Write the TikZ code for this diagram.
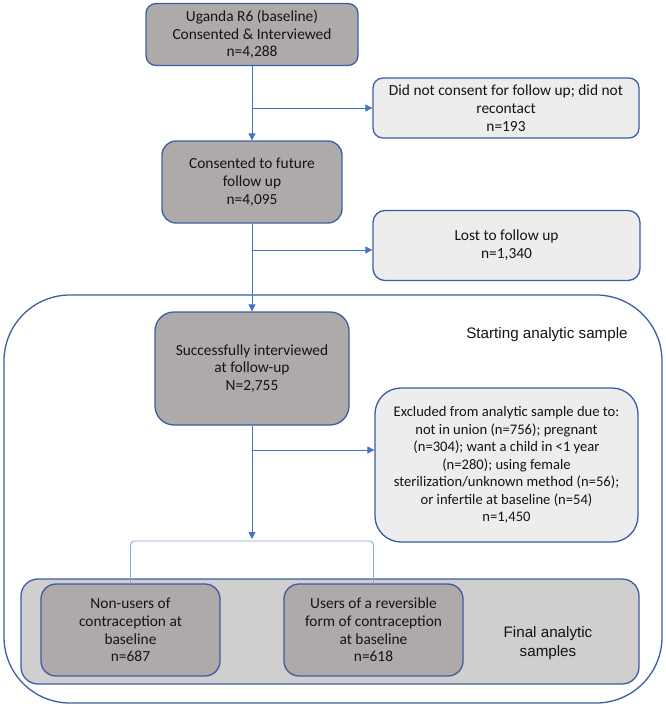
\documentclass[tikz,border=0pt]{standalone}
\usepackage{fontspec}
\setmainfont{Carlito}
\newfontfamily\arialf{Liberation Sans}
\usetikzlibrary{arrows.meta}
\definecolor{darkfill}{HTML}{AEAAAA}
\definecolor{lightfill}{HTML}{EDEDED}
\definecolor{bandfill}{HTML}{D0CECE}
\definecolor{edgeblue}{HTML}{3A5FA0}
\definecolor{connblue}{HTML}{4472C4}
\definecolor{bracketblue}{HTML}{8AA6DA}
\definecolor{txt}{HTML}{141414}
\tikzset{
  basebox/.style={draw=edgeblue, line width=1.3pt, align=center, text=txt,
    inner sep=2pt, font=\fontsize{15.4}{17.8}\selectfont},
  darkbox/.style={basebox, fill=darkfill},
  lightbox/.style={basebox, fill=lightfill},
  conn/.style={draw=connblue, line width=0.9pt, -{Triangle[length=7pt,width=7pt]}},
  bracketline/.style={draw=bracketblue, line width=0.9pt, rounded corners=4pt},
  plainlabel/.style={align=center, text=txt, font=\arialf\fontsize{15.2}{19}\selectfont}
}
\begin{document}
\begin{tikzpicture}[x=1pt,y=-1pt]
\useasboundingbox (0,0) rectangle (666,707);
% containers
\draw[draw=edgeblue, line width=1.3pt, rounded corners=66pt, fill=white] (4,295) rectangle (662,703);
\draw[draw=edgeblue, line width=1.3pt, rounded corners=17pt, fill=bandfill] (21,579) rectangle (639,684);
\node[plainlabel] (lstart) at (547,335) {Starting analytic sample};
\node[plainlabel] (lfinal) at (548,643) {Final analytic\\samples};
% boxes
\node[darkbox, minimum width=212pt, minimum height=62pt, rounded corners=10pt] (b1) at (252,34.5)
  {Uganda R6 (baseline)\\Consented \& Interviewed\\n=4,288};
\node[lightbox, minimum width=266pt, minimum height=60pt, rounded corners=10pt] (b2) at (506,108)
  {Did not consent for follow up; did not\\recontact\\n=193};
\node[darkbox, minimum width=180pt, minimum height=82pt, rounded corners=14pt] (b3) at (252,182)
  {Consented to future\\follow up\\n=4,095};
\node[lightbox, minimum width=267pt, minimum height=70pt, rounded corners=12pt] (b4) at (506.5,245.5)
  {Lost to follow up\\n=1,340};
\node[darkbox, minimum width=194pt, minimum height=113pt, rounded corners=19pt] (b5) at (252,368.5)
  {Successfully interviewed\\at follow-up\\N=2,755};
\node[lightbox, minimum width=263pt, minimum height=154pt, rounded corners=26pt,
  font=\fontsize{14.6}{17.5}\selectfont] (b6) at (506.5,465)
  {Excluded from analytic sample due to:\\not in union (n=756); pregnant\\(n=304); want a child in <1 year\\(n=280); using female\\sterilization/unknown method (n=56);\\or infertile at baseline (n=54)\\n=1,450};
\node[darkbox, minimum width=179pt, minimum height=92pt, rounded corners=15pt] (b7) at (130.5,630)
  {Non-users of\\contraception at\\baseline\\n=687};
\node[darkbox, minimum width=179pt, minimum height=92pt, rounded corners=15pt] (b8) at (373.5,630)
  {Users of a reversible\\form of contraception\\at baseline\\n=618};
% connectors
\coordinate (j1) at (252,108);
\coordinate (j2) at (252,250);
\coordinate (j3) at (252,450);
\coordinate (j4) at (252,539);
\coordinate (br) at (252,541);
\draw[conn] (b1.south) -- (b3.north);
\draw[conn] (j1) -- (j1 -| b2.west);
\draw[conn] (b3.south) -- (b5.north);
\draw[conn] (j2) -- (j2 -| b4.west);
\draw[conn] (b5.south) -- (j4);
\draw[conn] (j3) -- (j3 -| b6.west);
\draw[bracketline] (b7.north) -- (b7.north |- br) -- (b8.north |- br) -- (b8.north);
\end{tikzpicture}
\end{document}
